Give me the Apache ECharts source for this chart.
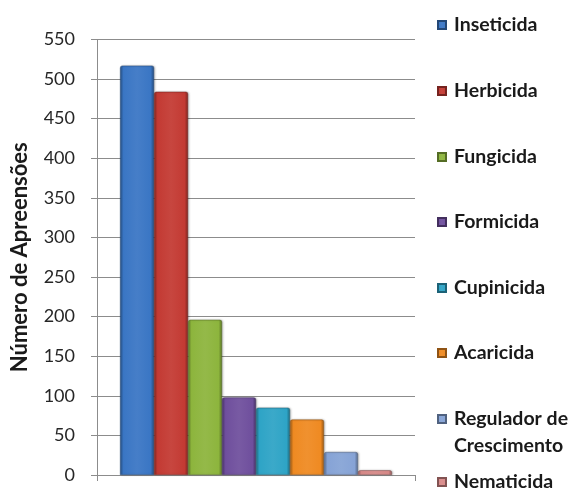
<!DOCTYPE html>
<html>
<head>
<meta charset="utf-8">
<script src="https://cdn.jsdelivr.net/npm/echarts@6/dist/echarts.min.js"></script>
<style>
  html, body { margin: 0; padding: 0; background: #ffffff; }
  #chart { width: 574px; height: 488px; }
</style>
</head>
<body>
<div id="chart"></div>
<script>
// Apreensões por classe de agrotóxico
const classes = ['Inseticida', 'Herbicida', 'Fungicida', 'Formicida', 'Cupinicida', 'Acaricida', 'Regulador de Crescimento', 'Nematicida'];
const apreensoes = [517, 484, 196, 98, 85, 70, 29, 6];
const yTicks = { min: 0, max: 550, interval: 50 };
const axisTitle = 'Número de Apreensões';

const baseColors = ['#3a76c4', '#c33a33', '#8db53d', '#6f4f9d', '#2ea4c6', '#ef8a22', '#86a3d6', '#d98a89'];
const FONT = 'Lato, "Open Sans", sans-serif';

function shade(hex, f) {
  const n = parseInt(hex.slice(1), 16);
  let r = (n >> 16) & 255, g = (n >> 8) & 255, b = n & 255;
  if (f < 0) { r *= 1 + f; g *= 1 + f; b *= 1 + f; }
  else { r += (255 - r) * f; g += (255 - g) * f; b += (255 - b) * f; }
  return 'rgb(' + Math.round(r) + ',' + Math.round(g) + ',' + Math.round(b) + ')';
}

// bevelled look: darker side edges, slightly lighter centre
function barFill(hex) {
  return {
    type: 'linear', x: 0, y: 0, x2: 1, y2: 0,
    colorStops: [
      { offset: 0, color: shade(hex, -0.3) },
      { offset: 0.1, color: hex },
      { offset: 0.5, color: shade(hex, 0.06) },
      { offset: 0.9, color: hex },
      { offset: 1, color: shade(hex, -0.35) }
    ]
  };
}

// legend rows: vertical centre of each entry's first line
const legendCentres = [25, 91, 157, 222, 288, 353, 419, 482];

const legends = classes.map(function (name, i) {
  const twoLine = name === 'Regulador de Crescimento';
  const lh = twoLine ? 27 : 22;
  return {
    data: [name],
    orient: 'vertical',
    left: 437,
    top: twoLine ? legendCentres[i] - lh * 1.5 : legendCentres[i] - lh / 2,
    padding: 0,
    icon: 'rect',
    itemWidth: 8,
    itemHeight: 8,
    itemGap: 0,
    formatter: twoLine ? function () { return '\nRegulador de\nCrescimento'; } : '{name}',
    textStyle: {
      fontFamily: FONT, fontWeight: 'bold', fontSize: 19.5,
      color: '#1a1a1a', lineHeight: lh, padding: [0, 0, 0, 3]
    }
  };
});

const series = classes.map(function (name, i) {
  return {
    name: name,
    type: 'bar',
    barGap: '0%',
    barCategoryGap: '14.5%',
    data: [apreensoes[i]],
    itemStyle: {
      color: barFill(baseColors[i]),
      borderColor: shade(baseColors[i], -0.4),
      borderWidth: 0.5,
      borderRadius: [2, 2, 0, 0],
      shadowColor: 'rgba(0,0,0,0.25)',
      shadowBlur: 2,
      shadowOffsetX: 1,
      shadowOffsetY: 0
    },
    emphasis: { disabled: true }
  };
});

const chart = echarts.init(document.getElementById('chart'), null, { renderer: 'canvas' });
chart.setOption({
  backgroundColor: '#ffffff',
  animation: false,
  legend: legends,
  grid: { left: 97, right: 159, top: 39.5, bottom: 13, containLabel: false, outerBoundsMode: 'none' },
  xAxis: {
    type: 'category',
    data: [''],
    axisLine: { show: true, lineStyle: { color: '#8c8c8c', width: 1 } },
    axisTick: { show: true, length: 6, lineStyle: { color: '#8c8c8c' } },
    axisLabel: { show: false },
    splitLine: { show: false }
  },
  yAxis: {
    type: 'value',
    min: yTicks.min,
    max: yTicks.max,
    interval: yTicks.interval,
    name: axisTitle,
    nameLocation: 'middle',
    nameGap: 66,
    nameTextStyle: { fontFamily: FONT, fontWeight: 'bold', fontSize: 22, color: '#1a1a1a' },
    axisLine: { show: true, lineStyle: { color: '#8c8c8c', width: 1 } },
    axisTick: { show: true, length: 6, lineStyle: { color: '#8c8c8c' } },
    axisLabel: { fontFamily: FONT, fontSize: 18, color: '#262626', margin: 22 },
    splitLine: { show: true, lineStyle: { color: '#8c8c8c', width: 1 } }
  },
  series: series
});
</script>
</body>
</html>
